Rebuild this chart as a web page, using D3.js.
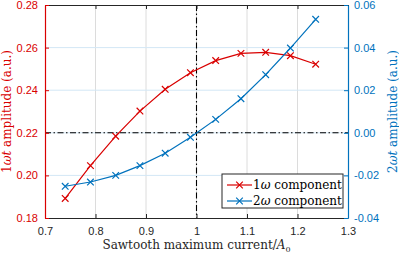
<!DOCTYPE html>
<meta charset="utf-8">
<style>
body {
  margin: 0;
  background-color: #ffffff;
}
.tick text {
  font: 11px "Liberation Sans", Arial, sans-serif;
}
.serif {
  font-family: "DejaVu Serif", serif;
}
</style>
<svg width="399" height="254"></svg>
<script src="https://d3js.org/d3.v7.min.js"></script>
<script>
// sawtooth maximum current / A0
var current = [0.74, 0.79, 0.84, 0.888, 0.938, 0.988, 1.038, 1.088, 1.137, 1.186, 1.236];
// 1w component (left axis)
var amp1w = [0.1892, 0.2046, 0.2184, 0.2302, 0.2404, 0.2482, 0.2539, 0.2573, 0.2578, 0.2562, 0.2522];
// 2w component (right axis)
var amp2w = [-0.0251, -0.0231, -0.0200, -0.0154, -0.0096, -0.0021, 0.0063, 0.0160, 0.0273, 0.0398, 0.0533];

var xTicks = [0.7, 0.8, 0.9, 1.0, 1.1, 1.2, 1.3];
var yLeftTicks = [0.18, 0.20, 0.22, 0.24, 0.26, 0.28];
var yRightTicks = [-0.04, -0.02, 0.00, 0.02, 0.04, 0.06];
var seriesNames = ["1\u03c9 component", "2\u03c9 component"];

var red = "#d90000",
    blue = "#0072bd",
    dark = "#262626";

var svg = d3.select("svg"),
    margin = {top: 5, right: 51, bottom: 36, left: 45},
    width = +svg.attr("width") - margin.left - margin.right,
    height = +svg.attr("height") - margin.top - margin.bottom,
    g = svg.append("g").attr("transform", "translate(" + margin.left + "," + margin.top + ")");

var x = d3.scaleLinear().domain([0.7, 1.3]).range([0, width]);
var yL = d3.scaleLinear().domain([0.18, 0.28]).range([height, 0]);
var yR = d3.scaleLinear().domain([-0.04, 0.06]).range([height, 0]);

// grid
g.append("g")
  .selectAll("line")
  .data(xTicks.slice(1, -1))
  .enter().append("line")
    .attr("x1", function(d) { return x(d); })
    .attr("x2", function(d) { return x(d); })
    .attr("y1", 0)
    .attr("y2", height)
    .attr("stroke", "#dcdcdc")
    .attr("stroke-width", 1);

g.append("g")
  .selectAll("line")
  .data(yRightTicks.slice(1, -1))
  .enter().append("line")
    .attr("x1", 0)
    .attr("x2", width)
    .attr("y1", function(d) { return yR(d); })
    .attr("y2", function(d) { return yR(d); })
    .attr("stroke", "#d3e7f5")
    .attr("stroke-width", 1);

// dash-dot reference lines
g.append("line")
  .attr("x1", x(1)).attr("x2", x(1))
  .attr("y1", 0).attr("y2", height)
  .attr("stroke", "#000").attr("stroke-width", 1.1)
  .attr("stroke-dasharray", "6,2.5,1.5,2.5");

g.append("line")
  .attr("x1", 0).attr("x2", width)
  .attr("y1", yR(0)).attr("y2", yR(0))
  .attr("stroke", "#000").attr("stroke-width", 1.1)
  .attr("stroke-dasharray", "6,2.5,1.5,2.5");

// axes
function styleAxis(sel, color) {
  sel.select(".domain").attr("stroke", color).attr("stroke-width", 1.2);
  sel.selectAll(".tick line").attr("stroke", color);
  sel.selectAll(".tick text").attr("fill", color);
}

var fmtX = function(d) { return d === 1 ? "1" : d3.format(".1f")(d); };
var fmtY = function(d) { return d3.format(".2f")(d).replace("\u2212", "-"); };

g.append("g")
    .attr("transform", "translate(0," + height + ")")
    .call(d3.axisBottom(x).tickValues(xTicks).tickFormat(fmtX).tickSizeInner(-4).tickSizeOuter(0).tickPadding(9))
    .call(styleAxis, dark);

g.append("g")
    .call(d3.axisTop(x).tickValues(xTicks).tickFormat("").tickSizeInner(-4).tickSizeOuter(0))
    .call(styleAxis, dark);

g.append("g")
    .call(d3.axisLeft(yL).tickValues(yLeftTicks).tickFormat(fmtY).tickSizeInner(-4).tickSizeOuter(0).tickPadding(7))
    .call(styleAxis, red);

g.append("g")
    .attr("transform", "translate(" + width + ",0)")
    .call(d3.axisRight(yR).tickValues(yRightTicks).tickFormat(fmtY).tickSizeInner(-4).tickSizeOuter(0).tickPadding(6))
    .call(styleAxis, blue);

// series
function drawSeries(values, yScale, color) {
  var pts = current.map(function(c, i) { return [x(c), yScale(values[i])]; });
  g.append("path")
    .datum(pts)
    .attr("fill", "none")
    .attr("stroke", color)
    .attr("stroke-width", 1.2)
    .attr("d", d3.line());
  g.append("g")
    .selectAll("path")
    .data(pts)
    .enter().append("path")
      .attr("d", function(d) {
        var s = 3.3;
        return "M" + (d[0] - s) + "," + (d[1] - s) + "L" + (d[0] + s) + "," + (d[1] + s) +
               "M" + (d[0] - s) + "," + (d[1] + s) + "L" + (d[0] + s) + "," + (d[1] - s);
      })
      .attr("stroke", color)
      .attr("stroke-width", 1.2)
      .attr("fill", "none");
}
drawSeries(amp1w, yL, red);
drawSeries(amp2w, yR, blue);

// legend
var legend = g.append("g").attr("transform", "translate(" + (222 - margin.left) + "," + (174 - margin.top) + ")");
legend.append("rect")
    .attr("width", 121)
    .attr("height", 34)
    .attr("fill", "#fff")
    .attr("stroke", dark)
    .attr("stroke-width", 1);

var item = legend.selectAll(".item")
  .data(seriesNames)
  .enter().append("g")
    .attr("class", "item")
    .attr("transform", function(d, i) { return "translate(0," + (11 + i * 16) + ")"; });

item.append("line")
    .attr("x1", 5).attr("x2", 30)
    .attr("stroke", function(d, i) { return i === 0 ? red : blue; })
    .attr("stroke-width", 1.2);
item.append("path")
    .attr("d", "M14.2,-3.3L20.8,3.3M14.2,3.3L20.8,-3.3")
    .attr("stroke", function(d, i) { return i === 0 ? red : blue; })
    .attr("stroke-width", 1.2);
item.append("text")
    .attr("class", "serif")
    .attr("x", 31)
    .attr("dy", "0.35em")
    .attr("font-size", 12)
    .attr("fill", "#000")
    .each(function(d) {
      var t = d3.select(this);
      t.append("tspan").text(d.charAt(0));
      t.append("tspan").attr("font-style", "italic").text(d.charAt(1));
      t.append("tspan").text(d.slice(2));
    });

// axis labels
var xl = svg.append("text")
    .attr("class", "serif")
    .attr("x", margin.left + width / 2)
    .attr("y", 249)
    .attr("text-anchor", "middle")
    .attr("font-size", 12)
    .attr("fill", dark);
xl.append("tspan").text("Sawtooth maximum current/");
xl.append("tspan").attr("font-style", "italic").text("A");
xl.append("tspan").attr("font-size", 8).attr("dy", 3).text("0");

function yLabel(prefix, xpos, color) {
  var t = svg.append("text")
      .attr("class", "serif")
      .attr("transform", "translate(" + xpos + "," + (margin.top + height / 2) + ") rotate(-90)")
      .attr("text-anchor", "middle")
      .attr("font-size", 12)
      .attr("fill", color);
  t.append("tspan").text(prefix);
  t.append("tspan").attr("font-style", "italic").text("\u03c9t");
  t.append("tspan").text(" amplitude (a.u.)");
}
yLabel("1", 11, red);
yLabel("2", 397, blue);
</script>
